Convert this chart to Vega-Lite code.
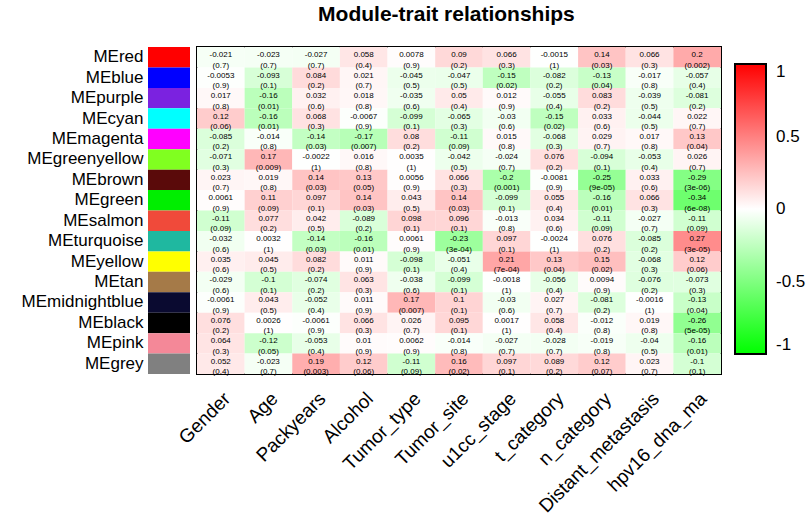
{
  "$schema": "https://vega.github.io/schema/vega-lite/v6.json",
  "padding": {"left": 21, "top": 4, "right": 5, "bottom": 5},
  "background": "white",
  "bounds": "flush",
  "title": {"text": "Module-trait relationships", "font": "Liberation Sans", "fontSize": 21, "fontWeight": "bold", "color": "black", "anchor": "start", "dx": 297, "offset": 21},
  "data": {"values": [
    {"m":"MEred","t":"Gender","r":-0.021,"p":"0.7"},{"m":"MEred","t":"Age","r":-0.023,"p":"0.7"},{"m":"MEred","t":"Packyears","r":-0.027,"p":"0.7"},{"m":"MEred","t":"Alcohol","r":0.058,"p":"0.4"},{"m":"MEred","t":"Tumor_type","r":0.0078,"p":"0.9"},{"m":"MEred","t":"Tumor_site","r":0.09,"p":"0.2"},{"m":"MEred","t":"u1cc_stage","r":0.066,"p":"0.3"},{"m":"MEred","t":"t_category","r":-0.0015,"p":"1"},{"m":"MEred","t":"n_category","r":0.14,"p":"0.03"},{"m":"MEred","t":"Distant_metastasis","r":0.066,"p":"0.3"},{"m":"MEred","t":"hpv16_dna_ma","r":0.2,"p":"0.002"},
    {"m":"MEblue","t":"Gender","r":-0.0053,"p":"0.9"},{"m":"MEblue","t":"Age","r":-0.093,"p":"0.1"},{"m":"MEblue","t":"Packyears","r":0.084,"p":"0.2"},{"m":"MEblue","t":"Alcohol","r":0.021,"p":"0.7"},{"m":"MEblue","t":"Tumor_type","r":-0.045,"p":"0.5"},{"m":"MEblue","t":"Tumor_site","r":-0.047,"p":"0.5"},{"m":"MEblue","t":"u1cc_stage","r":-0.15,"p":"0.02"},{"m":"MEblue","t":"t_category","r":-0.082,"p":"0.2"},{"m":"MEblue","t":"n_category","r":-0.13,"p":"0.04"},{"m":"MEblue","t":"Distant_metastasis","r":-0.017,"p":"0.8"},{"m":"MEblue","t":"hpv16_dna_ma","r":-0.057,"p":"0.4"},
    {"m":"MEpurple","t":"Gender","r":0.017,"p":"0.8"},{"m":"MEpurple","t":"Age","r":-0.16,"p":"0.01"},{"m":"MEpurple","t":"Packyears","r":0.032,"p":"0.6"},{"m":"MEpurple","t":"Alcohol","r":0.018,"p":"0.8"},{"m":"MEpurple","t":"Tumor_type","r":-0.035,"p":"0.6"},{"m":"MEpurple","t":"Tumor_site","r":0.05,"p":"0.4"},{"m":"MEpurple","t":"u1cc_stage","r":0.012,"p":"0.9"},{"m":"MEpurple","t":"t_category","r":-0.055,"p":"0.4"},{"m":"MEpurple","t":"n_category","r":0.083,"p":"0.2"},{"m":"MEpurple","t":"Distant_metastasis","r":-0.039,"p":"0.5"},{"m":"MEpurple","t":"hpv16_dna_ma","r":-0.081,"p":"0.2"},
    {"m":"MEcyan","t":"Gender","r":0.12,"p":"0.06"},{"m":"MEcyan","t":"Age","r":-0.16,"p":"0.01"},{"m":"MEcyan","t":"Packyears","r":0.068,"p":"0.3"},{"m":"MEcyan","t":"Alcohol","r":-0.0067,"p":"0.9"},{"m":"MEcyan","t":"Tumor_type","r":-0.099,"p":"0.1"},{"m":"MEcyan","t":"Tumor_site","r":-0.065,"p":"0.3"},{"m":"MEcyan","t":"u1cc_stage","r":-0.03,"p":"0.6"},{"m":"MEcyan","t":"t_category","r":-0.15,"p":"0.02"},{"m":"MEcyan","t":"n_category","r":0.033,"p":"0.6"},{"m":"MEcyan","t":"Distant_metastasis","r":-0.044,"p":"0.5"},{"m":"MEcyan","t":"hpv16_dna_ma","r":0.022,"p":"0.7"},
    {"m":"MEmagenta","t":"Gender","r":-0.085,"p":"0.2"},{"m":"MEmagenta","t":"Age","r":-0.014,"p":"0.8"},{"m":"MEmagenta","t":"Packyears","r":-0.14,"p":"0.03"},{"m":"MEmagenta","t":"Alcohol","r":-0.17,"p":"0.007"},{"m":"MEmagenta","t":"Tumor_type","r":0.08,"p":"0.2"},{"m":"MEmagenta","t":"Tumor_site","r":-0.11,"p":"0.09"},{"m":"MEmagenta","t":"u1cc_stage","r":0.015,"p":"0.8"},{"m":"MEmagenta","t":"t_category","r":-0.068,"p":"0.3"},{"m":"MEmagenta","t":"n_category","r":0.029,"p":"0.7"},{"m":"MEmagenta","t":"Distant_metastasis","r":0.017,"p":"0.8"},{"m":"MEmagenta","t":"hpv16_dna_ma","r":0.13,"p":"0.04"},
    {"m":"MEgreenyellow","t":"Gender","r":-0.071,"p":"0.3"},{"m":"MEgreenyellow","t":"Age","r":0.17,"p":"0.009"},{"m":"MEgreenyellow","t":"Packyears","r":-0.0022,"p":"1"},{"m":"MEgreenyellow","t":"Alcohol","r":0.016,"p":"0.8"},{"m":"MEgreenyellow","t":"Tumor_type","r":0.0035,"p":"1"},{"m":"MEgreenyellow","t":"Tumor_site","r":-0.042,"p":"0.5"},{"m":"MEgreenyellow","t":"u1cc_stage","r":-0.024,"p":"0.7"},{"m":"MEgreenyellow","t":"t_category","r":0.076,"p":"0.2"},{"m":"MEgreenyellow","t":"n_category","r":-0.094,"p":"0.1"},{"m":"MEgreenyellow","t":"Distant_metastasis","r":-0.053,"p":"0.4"},{"m":"MEgreenyellow","t":"hpv16_dna_ma","r":0.026,"p":"0.7"},
    {"m":"MEbrown","t":"Gender","r":0.023,"p":"0.7"},{"m":"MEbrown","t":"Age","r":0.019,"p":"0.8"},{"m":"MEbrown","t":"Packyears","r":0.14,"p":"0.03"},{"m":"MEbrown","t":"Alcohol","r":0.13,"p":"0.05"},{"m":"MEbrown","t":"Tumor_type","r":0.0056,"p":"0.9"},{"m":"MEbrown","t":"Tumor_site","r":0.066,"p":"0.3"},{"m":"MEbrown","t":"u1cc_stage","r":-0.2,"p":"0.001"},{"m":"MEbrown","t":"t_category","r":-0.0081,"p":"0.9"},{"m":"MEbrown","t":"n_category","r":-0.25,"p":"9e-05"},{"m":"MEbrown","t":"Distant_metastasis","r":0.033,"p":"0.6"},{"m":"MEbrown","t":"hpv16_dna_ma","r":-0.29,"p":"3e-06"},
    {"m":"MEgreen","t":"Gender","r":0.0061,"p":"0.9"},{"m":"MEgreen","t":"Age","r":0.11,"p":"0.09"},{"m":"MEgreen","t":"Packyears","r":0.097,"p":"0.1"},{"m":"MEgreen","t":"Alcohol","r":0.14,"p":"0.03"},{"m":"MEgreen","t":"Tumor_type","r":0.043,"p":"0.5"},{"m":"MEgreen","t":"Tumor_site","r":0.14,"p":"0.03"},{"m":"MEgreen","t":"u1cc_stage","r":-0.099,"p":"0.1"},{"m":"MEgreen","t":"t_category","r":0.055,"p":"0.4"},{"m":"MEgreen","t":"n_category","r":-0.16,"p":"0.01"},{"m":"MEgreen","t":"Distant_metastasis","r":0.066,"p":"0.3"},{"m":"MEgreen","t":"hpv16_dna_ma","r":-0.34,"p":"6e-08"},
    {"m":"MEsalmon","t":"Gender","r":-0.11,"p":"0.09"},{"m":"MEsalmon","t":"Age","r":0.077,"p":"0.2"},{"m":"MEsalmon","t":"Packyears","r":0.042,"p":"0.5"},{"m":"MEsalmon","t":"Alcohol","r":-0.089,"p":"0.2"},{"m":"MEsalmon","t":"Tumor_type","r":0.098,"p":"0.1"},{"m":"MEsalmon","t":"Tumor_site","r":0.096,"p":"0.1"},{"m":"MEsalmon","t":"u1cc_stage","r":-0.013,"p":"0.8"},{"m":"MEsalmon","t":"t_category","r":0.034,"p":"0.6"},{"m":"MEsalmon","t":"n_category","r":-0.11,"p":"0.09"},{"m":"MEsalmon","t":"Distant_metastasis","r":-0.027,"p":"0.7"},{"m":"MEsalmon","t":"hpv16_dna_ma","r":-0.11,"p":"0.09"},
    {"m":"MEturquoise","t":"Gender","r":-0.032,"p":"0.6"},{"m":"MEturquoise","t":"Age","r":0.0032,"p":"1"},{"m":"MEturquoise","t":"Packyears","r":-0.14,"p":"0.03"},{"m":"MEturquoise","t":"Alcohol","r":-0.16,"p":"0.01"},{"m":"MEturquoise","t":"Tumor_type","r":0.0061,"p":"0.9"},{"m":"MEturquoise","t":"Tumor_site","r":-0.23,"p":"3e-04"},{"m":"MEturquoise","t":"u1cc_stage","r":0.097,"p":"0.1"},{"m":"MEturquoise","t":"t_category","r":-0.0024,"p":"1"},{"m":"MEturquoise","t":"n_category","r":0.076,"p":"0.2"},{"m":"MEturquoise","t":"Distant_metastasis","r":-0.085,"p":"0.2"},{"m":"MEturquoise","t":"hpv16_dna_ma","r":0.27,"p":"3e-05"},
    {"m":"MEyellow","t":"Gender","r":0.035,"p":"0.6"},{"m":"MEyellow","t":"Age","r":0.045,"p":"0.5"},{"m":"MEyellow","t":"Packyears","r":0.082,"p":"0.2"},{"m":"MEyellow","t":"Alcohol","r":0.011,"p":"0.9"},{"m":"MEyellow","t":"Tumor_type","r":-0.098,"p":"0.1"},{"m":"MEyellow","t":"Tumor_site","r":-0.051,"p":"0.4"},{"m":"MEyellow","t":"u1cc_stage","r":0.21,"p":"7e-04"},{"m":"MEyellow","t":"t_category","r":0.13,"p":"0.04"},{"m":"MEyellow","t":"n_category","r":0.15,"p":"0.02"},{"m":"MEyellow","t":"Distant_metastasis","r":-0.068,"p":"0.3"},{"m":"MEyellow","t":"hpv16_dna_ma","r":0.12,"p":"0.06"},
    {"m":"MEtan","t":"Gender","r":-0.029,"p":"0.6"},{"m":"MEtan","t":"Age","r":-0.1,"p":"0.1"},{"m":"MEtan","t":"Packyears","r":-0.074,"p":"0.2"},{"m":"MEtan","t":"Alcohol","r":0.063,"p":"0.3"},{"m":"MEtan","t":"Tumor_type","r":-0.038,"p":"0.6"},{"m":"MEtan","t":"Tumor_site","r":-0.099,"p":"0.1"},{"m":"MEtan","t":"u1cc_stage","r":-0.0018,"p":"1"},{"m":"MEtan","t":"t_category","r":-0.056,"p":"0.4"},{"m":"MEtan","t":"n_category","r":0.0094,"p":"0.9"},{"m":"MEtan","t":"Distant_metastasis","r":-0.076,"p":"0.2"},{"m":"MEtan","t":"hpv16_dna_ma","r":-0.073,"p":"0.3"},
    {"m":"MEmidnightblue","t":"Gender","r":-0.0061,"p":"0.9"},{"m":"MEmidnightblue","t":"Age","r":0.043,"p":"0.5"},{"m":"MEmidnightblue","t":"Packyears","r":-0.052,"p":"0.4"},{"m":"MEmidnightblue","t":"Alcohol","r":0.011,"p":"0.9"},{"m":"MEmidnightblue","t":"Tumor_type","r":0.17,"p":"0.007"},{"m":"MEmidnightblue","t":"Tumor_site","r":0.1,"p":"0.1"},{"m":"MEmidnightblue","t":"u1cc_stage","r":-0.03,"p":"0.6"},{"m":"MEmidnightblue","t":"t_category","r":0.027,"p":"0.7"},{"m":"MEmidnightblue","t":"n_category","r":-0.081,"p":"0.2"},{"m":"MEmidnightblue","t":"Distant_metastasis","r":-0.0016,"p":"1"},{"m":"MEmidnightblue","t":"hpv16_dna_ma","r":-0.13,"p":"0.04"},
    {"m":"MEblack","t":"Gender","r":0.076,"p":"0.2"},{"m":"MEblack","t":"Age","r":0.0026,"p":"1"},{"m":"MEblack","t":"Packyears","r":-0.0061,"p":"0.9"},{"m":"MEblack","t":"Alcohol","r":0.066,"p":"0.3"},{"m":"MEblack","t":"Tumor_type","r":0.026,"p":"0.7"},{"m":"MEblack","t":"Tumor_site","r":0.095,"p":"0.1"},{"m":"MEblack","t":"u1cc_stage","r":0.0017,"p":"1"},{"m":"MEblack","t":"t_category","r":0.058,"p":"0.4"},{"m":"MEblack","t":"n_category","r":-0.012,"p":"0.8"},{"m":"MEblack","t":"Distant_metastasis","r":0.019,"p":"0.8"},{"m":"MEblack","t":"hpv16_dna_ma","r":-0.26,"p":"5e-05"},
    {"m":"MEpink","t":"Gender","r":0.064,"p":"0.3"},{"m":"MEpink","t":"Age","r":-0.12,"p":"0.05"},{"m":"MEpink","t":"Packyears","r":-0.053,"p":"0.4"},{"m":"MEpink","t":"Alcohol","r":0.01,"p":"0.9"},{"m":"MEpink","t":"Tumor_type","r":0.0062,"p":"0.9"},{"m":"MEpink","t":"Tumor_site","r":-0.014,"p":"0.8"},{"m":"MEpink","t":"u1cc_stage","r":-0.027,"p":"0.7"},{"m":"MEpink","t":"t_category","r":-0.028,"p":"0.7"},{"m":"MEpink","t":"n_category","r":-0.019,"p":"0.8"},{"m":"MEpink","t":"Distant_metastasis","r":-0.04,"p":"0.5"},{"m":"MEpink","t":"hpv16_dna_ma","r":-0.16,"p":"0.01"},
    {"m":"MEgrey","t":"Gender","r":0.052,"p":"0.4"},{"m":"MEgrey","t":"Age","r":-0.023,"p":"0.7"},{"m":"MEgrey","t":"Packyears","r":0.19,"p":"0.003"},{"m":"MEgrey","t":"Alcohol","r":0.12,"p":"0.06"},{"m":"MEgrey","t":"Tumor_type","r":-0.11,"p":"0.09"},{"m":"MEgrey","t":"Tumor_site","r":0.16,"p":"0.02"},{"m":"MEgrey","t":"u1cc_stage","r":0.097,"p":"0.1"},{"m":"MEgrey","t":"t_category","r":0.089,"p":"0.2"},{"m":"MEgrey","t":"n_category","r":0.12,"p":"0.07"},{"m":"MEgrey","t":"Distant_metastasis","r":0.023,"p":"0.7"},{"m":"MEgrey","t":"hpv16_dna_ma","r":-0.1,"p":"0.1"}
  ]},
  "spacing": 7,
  "resolve": {"scale": {"color": "independent", "fill": "independent", "y": "shared"}},
  "hconcat": [
    {
      "width": 42,
      "height": 327,
      "view": {"stroke": null},
      "transform": [{"filter": "datum.t == 'Gender'"}],
      "mark": {"type": "rect"},
      "encoding": {
        "y": {"field": "m", "type": "nominal", "sort": null,
              "scale": {"paddingInner": 0, "paddingOuter": 0},
              "axis": {"title": null, "ticks": false, "domain": false, "labelFontSize": 17, "labelFont": "Liberation Sans", "labelColor": "black", "labelPadding": 5, "labelLimit": 300}},
        "color": {"field": "m", "type": "nominal", "legend": null,
                  "scale": {"domain": ["MEred","MEblue","MEpurple","MEcyan","MEmagenta","MEgreenyellow","MEbrown","MEgreen","MEsalmon","MEturquoise","MEyellow","MEtan","MEmidnightblue","MEblack","MEpink","MEgrey"],
                            "range": ["#FF0000","#0000FF","#7B22E0","#00FFFF","#FF00FF","#80FF20","#5A0A0A","#00EE00","#F04A3A","#1FB8A0","#FFFF00","#A57A48","#0A0A30","#000000","#F48898","#808080"]}}
      }
    },
    {
      "width": 524,
      "height": 327,
      "view": {"stroke": "black", "strokeWidth": 2},
      "transform": [{"calculate": "'(' + datum.p + ')'", "as": "pl"}],
      "encoding": {
        "x": {"field": "t", "type": "nominal", "sort": null,
              "scale": {"paddingInner": 0, "paddingOuter": 0},
              "axis": {"title": null, "ticks": false, "domain": false, "labelAngle": -45, "labelFontSize": 19, "labelFont": "Liberation Sans", "labelColor": "black", "labelPadding": 15}},
        "y": {"field": "m", "type": "nominal", "sort": null, "axis": null,
              "scale": {"paddingInner": 0, "paddingOuter": 0}}
      },
      "layer": [
        {"mark": {"type": "rect", "opacity": 0},
         "encoding": {"color": {"field": "r", "type": "quantitative",
            "scale": {"domain": [-1, 0, 1], "range": ["#00FF00", "#FFFFFF", "#FF0000"], "interpolate": "rgb"},
            "legend": {"title": null, "orient": "none", "legendX": 538, "legendY": 17, "direction": "vertical", "gradientLength": 290, "gradientThickness": 31, "gradientStrokeColor": "black", "gradientStrokeWidth": 2, "gradientOpacity": 1, "values": [-1, -0.5, 0, 0.5, 1], "labelExpr": "datum.value + ''", "labelFontSize": 17, "labelFont": "Liberation Sans", "labelColor": "black", "labelOffset": 10}}}},
        {"mark": {"type": "rect"},
         "encoding": {"fill": {"field": "r", "type": "quantitative", "legend": null,
            "scale": {"domain": [-0.6, 0, 0.6], "range": ["#00FF00", "#FFFFFF", "#FF0000"], "interpolate": "rgb", "clamp": true}}}},
        {"mark": {"type": "text", "fontSize": 8, "font": "Liberation Sans", "color": "black", "dy": -2},
         "encoding": {"text": {"field": "r", "type": "nominal"}}},
        {"mark": {"type": "text", "fontSize": 8, "font": "Liberation Sans", "color": "black", "dy": 8.5},
         "encoding": {"text": {"field": "pl", "type": "nominal"}}}
      ]
    }
  ]
}
